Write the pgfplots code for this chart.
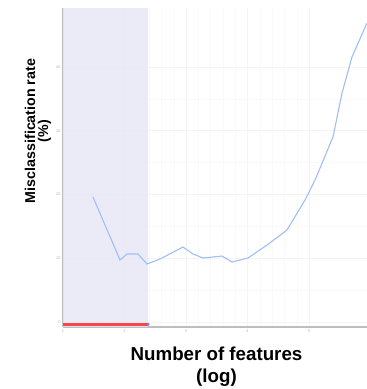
\documentclass[border=0pt]{standalone}
\usepackage{fontspec}
\setmainfont{Liberation Sans}
\usepackage{pgfplots}
\pgfplotsset{compat=1.18}
\definecolor{shade}{RGB}{232,232,247}
\definecolor{curve}{RGB}{160,190,245}
\definecolor{axgray}{RGB}{190,190,190}
\begin{document}
\begin{tikzpicture}
\begin{axis}[
  name=ax,
  at={(0,0)}, anchor=south west,
  scale only axis, width=304bp, height=319bp,
  xmin=1, xmax=5.943, ymin=-0.78, ymax=49.25,
  axis lines*=left,
  axis line style={axgray, line width=1.4bp},
  xtick={1,2,3,4,5}, ytick={0,10,20,30,40},
  minor x tick num=4, minor y tick num=1,
  grid=both,
  major grid style={gray!9, line width=0.5bp},
  minor grid style={gray!5, line width=0.4bp},
  tick style={draw=none},
  tick label style={font=\fontsize{4}{5}\selectfont, text=gray!60},
  /pgf/number format/assume math mode=true,
  xticklabel style={yshift=1bp},
  yticklabel style={xshift=1bp},
]
\addplot[draw=none, fill=shade, fill opacity=0.85, forget plot] coordinates {(1,-0.78) (2.382,-0.78) (2.382,49.25) (1,49.25)} -- cycle;
\addplot[curve, line width=1.1bp] coordinates {
(1.488,19.6) (1.927,9.73) (2.041,10.67) (2.220,10.67) (2.366,9.1) (2.577,9.88) (2.951,11.76)
(3.114,10.67) (3.276,10.04) (3.585,10.35) (3.748,9.41) (4.008,10.04) (4.317,12.08)
(4.642,14.43) (4.935,19.14) (5.098,22.27) (5.390,29.02) (5.537,35.92) (5.699,41.57) (5.943,46.9)
};
\addplot[color={rgb,255:red,250;green,70;blue,70}, line width=2.4bp] coordinates {(1,-0.36) (2.382,-0.36)};
\addplot[only marks, mark=*, mark size=1.3bp, color=blue!55] coordinates {(2.382,-0.36)};
\end{axis}
\node[anchor=base, font=\fontsize{18.8}{22}\selectfont\bfseries] at ([xshift=1.5bp,yshift=-33bp]ax.south) {Number of features};
\node[anchor=base, font=\fontsize{18.8}{22}\selectfont\bfseries] at ([xshift=1.5bp,yshift=-55bp]ax.south) {(log)};
\node[rotate=90, anchor=base, font=\fontsize{14.3}{16}\selectfont\bfseries] at (-28bp,196bp) {Misclassification rate};
\node[rotate=90, anchor=base, font=\fontsize{14.3}{16}\selectfont\bfseries] at (-15bp,196bp) {(\%)};
\pgfresetboundingbox
\useasboundingbox (-63bp,-62bp) rectangle (304bp,327bp);
\end{tikzpicture}
\end{document}
